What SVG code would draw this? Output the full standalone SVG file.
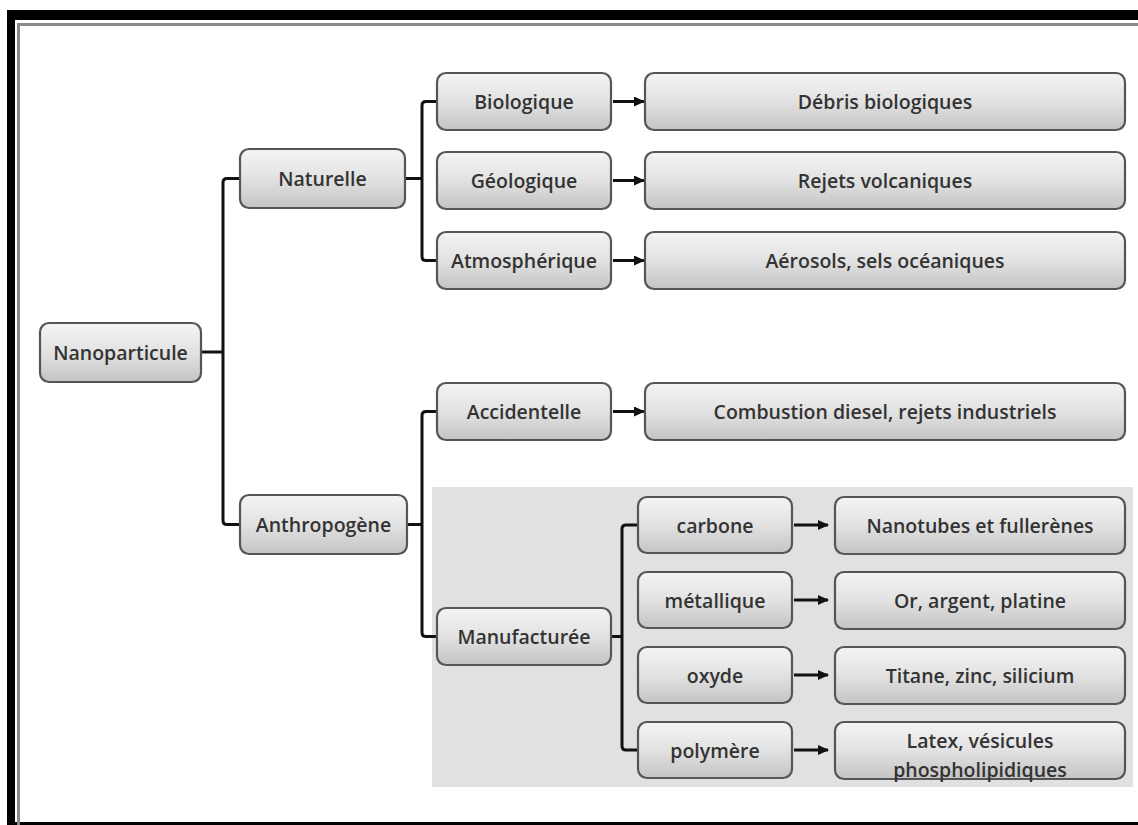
<svg xmlns="http://www.w3.org/2000/svg" width="1138" height="825" viewBox="0 0 1138 825">
<defs>
<linearGradient id="g" x1="0" y1="0" x2="0" y2="1">
<stop offset="0" stop-color="#f4f4f4"/>
<stop offset="0.5" stop-color="#e2e2e2"/>
<stop offset="1" stop-color="#c4c4c4"/>
</linearGradient>
<marker id="ah" markerWidth="11" markerHeight="10" refX="10" refY="5" orient="auto" markerUnits="userSpaceOnUse">
<path d="M0,0 L11,5 L0,10 Z" fill="#111"/>
</marker>
</defs>
<style>
.b{fill:url(#g);stroke:#555;stroke-width:2.2}
.t{font-family:"Open Sans","Liberation Sans",Arial,sans-serif;font-size:19.5px;font-weight:600;fill:#333;text-anchor:middle;dominant-baseline:central}
.c{fill:none;stroke:#111;stroke-width:3;stroke-linejoin:round}
.a{fill:none;stroke:#111;stroke-width:3;marker-end:url(#ah)}
</style>
<rect x="0" y="0" width="1138" height="825" fill="#fff"/>
<rect x="432" y="487" width="701" height="300" fill="#e1e0e2"/>
<g id="frame">
<rect x="7" y="10" width="1131" height="10" fill="#000"/>
<rect x="7" y="10" width="8" height="815" fill="#000"/>
<rect x="7" y="822" width="1131" height="3" fill="#000"/>
<path d="M18.5,825 V24.5 H1138" fill="none" stroke="#8a8a8a" stroke-width="3"/>
</g>
<g id="connectors">
<path class="c" d="M201,352 H223 M240,178.5 H227 Q223,178.5 223,182.5 V520.5 Q223,524.5 227,524.5 H240"/>
<path class="c" d="M405,178.5 H422 M437,101.5 H426 Q422,101.5 422,105.5 V256.5 Q422,260.5 426,260.5 H437"/>
<path class="c" d="M407,524.5 H422 M437,411.5 H426 Q422,411.5 422,415.5 V632.5 Q422,636.5 426,636.5 H437"/>
<path class="c" d="M611,636.5 H622 M638,525 H626 Q622,525 622,529 V746 Q622,750 626,750 H638"/>
<path class="a" d="M613,101.5 H644"/>
<path class="a" d="M613,180.5 H644"/>
<path class="a" d="M613,260.5 H644"/>
<path class="a" d="M613,411.5 H644"/>
<path class="a" d="M794,525 H828"/>
<path class="a" d="M794,600 H828"/>
<path class="a" d="M794,675 H828"/>
<path class="a" d="M794,750 H828"/>
</g>
<g id="n-nanoparticule"><rect class="b" x="40" y="323" width="161" height="59" rx="9"/><text class="t" x="120.5" y="352.5">Nanoparticule</text></g>
<g id="n-naturelle"><rect class="b" x="240" y="149" width="165" height="59" rx="9"/><text class="t" x="322.5" y="178.5">Naturelle</text></g>
<g id="n-anthropogene"><rect class="b" x="240" y="495" width="167" height="59" rx="9"/><text class="t" x="323.5" y="524.5">Anthropogène</text></g>
<g id="n-biologique"><rect class="b" x="437" y="73" width="174" height="57" rx="9"/><text class="t" x="524" y="101.5">Biologique</text></g>
<g id="n-geologique"><rect class="b" x="437" y="152" width="174" height="57" rx="9"/><text class="t" x="524" y="180.5">Géologique</text></g>
<g id="n-atmospherique"><rect class="b" x="437" y="232" width="174" height="57" rx="9"/><text class="t" x="524" y="260.5">Atmosphérique</text></g>
<g id="n-debris"><rect class="b" x="645" y="73" width="480" height="57" rx="9"/><text class="t" x="885" y="101.5">Débris biologiques</text></g>
<g id="n-rejets"><rect class="b" x="645" y="152" width="480" height="57" rx="9"/><text class="t" x="885" y="180.5">Rejets volcaniques</text></g>
<g id="n-aerosols"><rect class="b" x="645" y="232" width="480" height="57" rx="9"/><text class="t" x="885" y="260.5">Aérosols, sels océaniques</text></g>
<g id="n-accidentelle"><rect class="b" x="437" y="383" width="174" height="57" rx="9"/><text class="t" x="524" y="411.5">Accidentelle</text></g>
<g id="n-combustion"><rect class="b" x="645" y="383" width="480" height="57" rx="9"/><text class="t" x="885" y="411.5">Combustion diesel, rejets industriels</text></g>
<g id="n-manufacturee"><rect class="b" x="437" y="608" width="174" height="57" rx="9"/><text class="t" x="524" y="636.5">Manufacturée</text></g>
<g id="n-carbone"><rect class="b" x="638" y="497" width="154" height="56" rx="9"/><text class="t" x="715" y="525">carbone</text></g>
<g id="n-metallique"><rect class="b" x="638" y="572" width="154" height="56" rx="9"/><text class="t" x="715" y="600">métallique</text></g>
<g id="n-oxyde"><rect class="b" x="638" y="647" width="154" height="56" rx="9"/><text class="t" x="715" y="675">oxyde</text></g>
<g id="n-polymere"><rect class="b" x="638" y="722" width="154" height="56" rx="9"/><text class="t" x="715" y="750">polymère</text></g>
<g id="n-nanotubes"><rect class="b" x="835" y="497" width="290" height="57" rx="9"/><text class="t" x="980" y="525.5">Nanotubes et fullerènes</text></g>
<g id="n-or"><rect class="b" x="835" y="572" width="290" height="57" rx="9"/><text class="t" x="980" y="600.5">Or, argent, platine</text></g>
<g id="n-titane"><rect class="b" x="835" y="647" width="290" height="57" rx="9"/><text class="t" x="980" y="675.5">Titane, zinc, silicium</text></g>
<g id="n-latex"><rect class="b" x="835" y="722" width="290" height="57" rx="9"/><text class="t" x="980" y="740">Latex, vésicules</text><text class="t" x="980" y="769">phospholipidiques</text></g>
</svg>
